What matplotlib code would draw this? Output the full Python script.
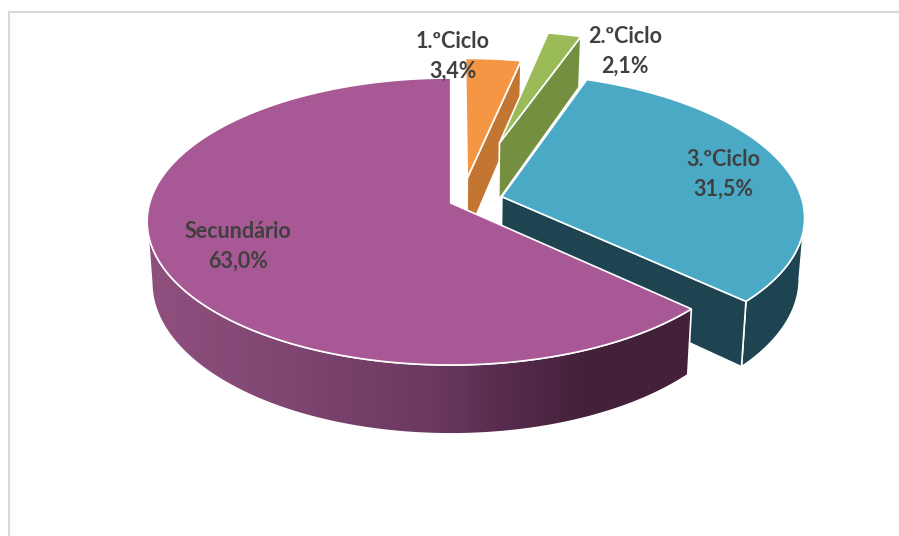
import numpy as np
import matplotlib
matplotlib.use('Agg')
import matplotlib.pyplot as plt
from matplotlib.colors import LinearSegmentedColormap
from matplotlib.patches import Polygon

categories = ['1.ºCiclo', '2.ºCiclo', '3.ºCiclo', 'Secundário']
values = [3.4, 2.1, 31.5, 63.0]

top_colors = ['#f59645', '#9bbb59', '#4aaac5', '#a85895']
side_colors = ['#c27632', '#758f40', '#1d4450', '#693c60']
explode_u = [0.0564, 0.1714, 0.171, 0.0]
explode_v = [-0.181, -0.45, -0.045, 0.0]
show_face = [True, True, True, False]
show_wall = [False, False, True, True]
label_pos = [(453, 56), (625, 51), (723, 174), (238, 246)]

# projection of the disc, pixels
cx, cy = 450.7, 203.0
rx, ry = 301.0, 141.1
persp = 0.129
depth = 60.0
shrink = 0.985


def project(u, v, lower=False):
    w = 1 - persp * v
    if lower:
        return cx + shrink * rx * u / w, cy + (ry * v + depth) / w
    return cx + rx * u / w, cy + ry * v / w


def rim(a0, a1, du, dv, lower=False):
    t = np.radians(np.linspace(a0, a1, 240))
    x, y = project(np.sin(t) + du, -np.cos(t) + dv, lower)
    return np.column_stack([x, y])


fig = plt.figure(figsize=(8.99, 5.36), dpi=100)
ax = fig.add_axes([0, 0, 1, 1])
ax.set_xlim(0, 899)
ax.set_ylim(536, 0)
ax.axis('off')

ax.plot([9, 9, 899], [536, 11.5, 11.5], color='#d9d9d9', lw=1.5, solid_joinstyle='miter', zorder=1)

stops = [(0.0, '#90507f'), (0.28, '#7d4570'), (0.53, '#6a3860'), (0.68, '#54294a'), (0.81, '#43213a'), (1.0, '#45223c')]
cmap = LinearSegmentedColormap.from_list('wall', stops)
edges = np.cumsum([0] + values) * 3.6
z = 2
for i in range(len(values)):
    a0, a1 = edges[i], edges[i + 1]
    du, dv = explode_u[i], explode_v[i]
    top_rim = rim(a0, a1, du, dv)
    low_rim = rim(a0, a1, du, dv, True)
    apex = np.array(project(du, dv))
    apex_low = np.array(project(du, dv, True))

    if show_wall[i]:
        # only the part of the wall in front of the silhouette
        if i == 3:
            k = np.argmin(top_rim[:, 0])
            wall = np.vstack([top_rim[:k + 1], low_rim[:k + 1][::-1]])
            poly = Polygon(wall, closed=True, fc='none', ec='white', lw=1.2, zorder=z + 1)
            ax.add_patch(poly)
            grad = np.linspace(0, 1, 256).reshape(1, -1)
            im = ax.imshow(grad, cmap=cmap, extent=[147, 692, 440, 200], aspect='auto', zorder=z)
            im.set_clip_path(poly)
            ax.set_xlim(0, 899)
            ax.set_ylim(536, 0)
        else:
            k = np.argmax(top_rim[:, 0])
            wall = np.vstack([top_rim[k:], low_rim[k:][::-1]])
            ax.add_patch(Polygon(wall, closed=True, fc=side_colors[i], ec='white', lw=1.2, zorder=z + 1))
    if show_face[i]:
        face = np.vstack([apex, top_rim[-1], low_rim[-1], apex_low])
        ax.add_patch(Polygon(face, closed=True, fc=side_colors[i], ec='white', lw=1.2, zorder=z + 2))
    ax.add_patch(Polygon(np.vstack([apex, top_rim]), closed=True, fc=top_colors[i], ec='white',
                         lw=1.2, joinstyle='miter', zorder=z + 3))
    z += 4

for i in range(len(values)):
    txt = categories[i] + '\n' + ('%.1f%%' % values[i]).replace('.', ',')
    ax.text(label_pos[i][0], label_pos[i][1], txt, family='Lato', weight='bold', fontsize=15.5,
            color='#404040', ha='center', va='center', linespacing=1.5, zorder=50)

fig.savefig('out.png', dpi=100)
